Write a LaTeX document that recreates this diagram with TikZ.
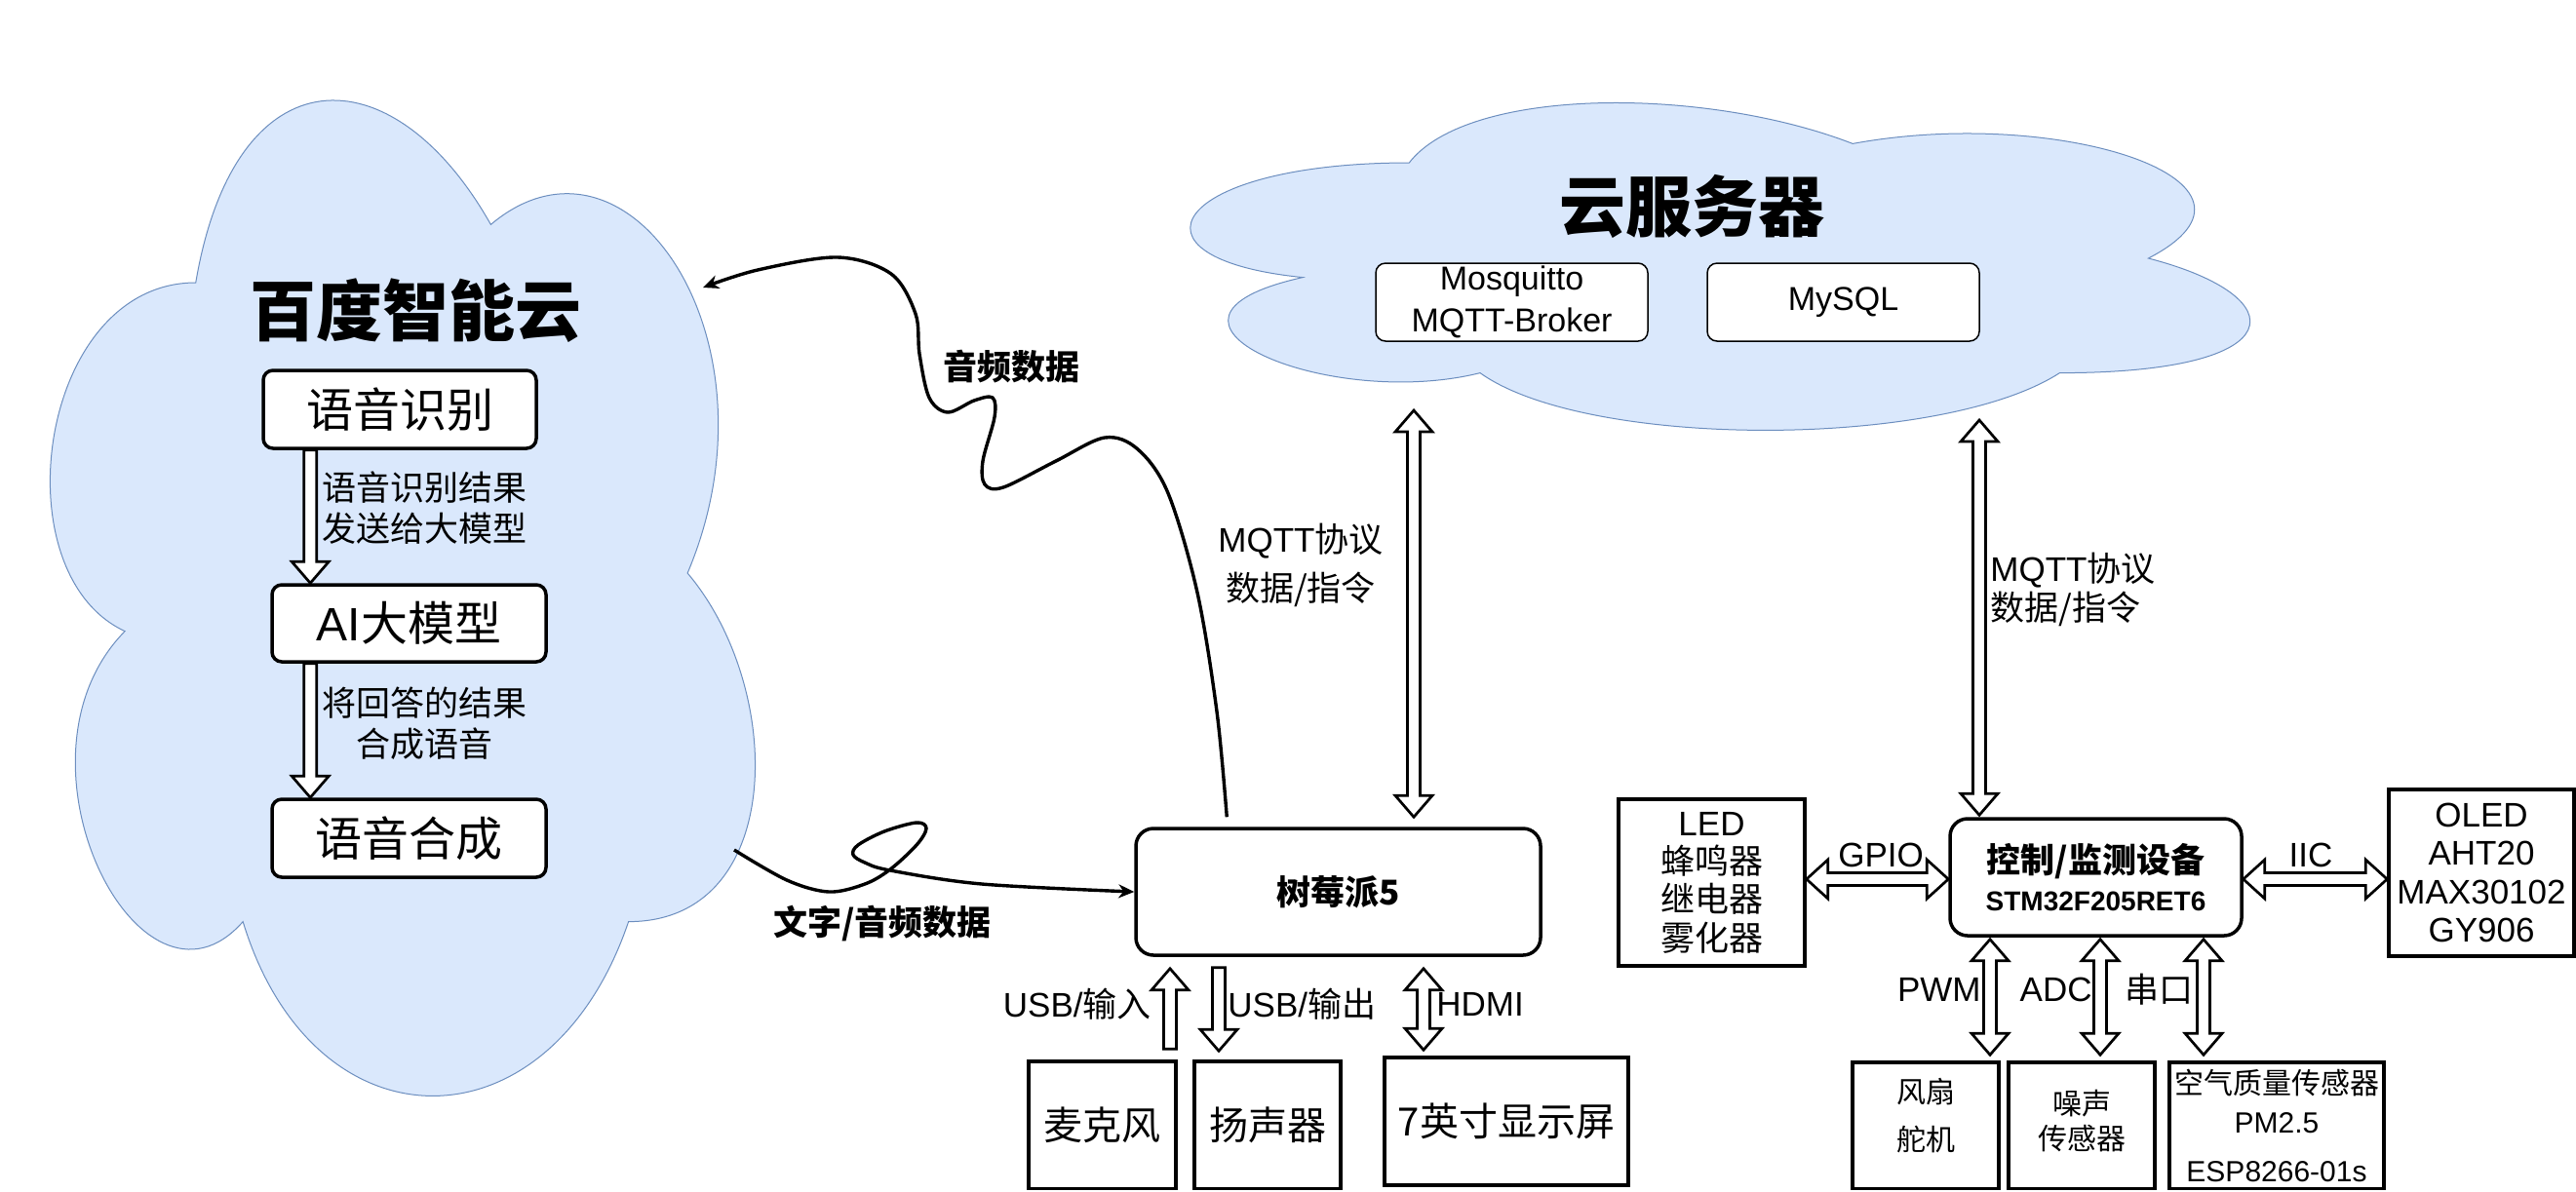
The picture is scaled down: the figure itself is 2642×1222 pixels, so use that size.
\documentclass[tikz,border=0pt]{standalone}
\usepackage{fontspec}
\setmainfont{Liberation Sans}
\newfontfamily\cj{Noto Sans CJK SC}
\usetikzlibrary{calc,arrows.meta}
\definecolor{cloudfill}{HTML}{DAE8FC}
\definecolor{cloudline}{HTML}{6C8EBF}
\newcommand{\cloudshape}[4]{%
 (#1+0.25*#3,#2+0.25*#4) .. controls (#1+0.05*#3,#2+0.25*#4) and (#1,#2+0.5*#4) .. (#1+0.16*#3,#2+0.55*#4)
 .. controls (#1,#2+0.66*#4) and (#1+0.18*#3,#2+0.9*#4) .. (#1+0.31*#3,#2+0.8*#4)
 .. controls (#1+0.4*#3,#2+#4) and (#1+0.7*#3,#2+#4) .. (#1+0.8*#3,#2+0.8*#4)
 .. controls (#1+#3,#2+0.8*#4) and (#1+#3,#2+0.6*#4) .. (#1+0.875*#3,#2+0.5*#4)
 .. controls (#1+#3,#2+0.3*#4) and (#1+0.8*#3,#2+0.1*#4) .. (#1+0.625*#3,#2+0.2*#4)
 .. controls (#1+0.5*#3,#2+0.05*#4) and (#1+0.3*#3,#2+0.05*#4) .. (#1+0.25*#3,#2+0.25*#4) -- cycle}
\newcommand{\vdbl}[2]{%
 \draw[barrow] (#1) -- ($(#1)+(19,22)$) -- ($(#1)+(6.5,22)$) -- ($(#2)+(6.5,-22)$) -- ($(#2)+(19,-22)$) -- (#2) -- ($(#2)+(-19,-22)$) -- ($(#2)+(-6.5,-22)$) -- ($(#1)+(-6.5,22)$) -- ($(#1)+(-19,22)$) -- cycle;}
\newcommand{\sarr}[3]{%
 \draw[barrow] ($(#1)+(-6.5,0)$) -- ($(#1)+(6.5,0)$) -- ($(#2)+(6.5,#3)$) -- ($(#2)+(19,#3)$) -- (#2) -- ($(#2)+(-19,#3)$) -- ($(#2)+(-6.5,#3)$) -- cycle;}
\newcommand{\hdbl}[2]{%
 \draw[barrow] (#1) -- ($(#1)+(22,-20)$) -- ($(#1)+(22,-6.5)$) -- ($(#2)+(-22,-6.5)$) -- ($(#2)+(-22,-20)$) -- (#2) -- ($(#2)+(-22,20)$) -- ($(#2)+(-22,6.5)$) -- ($(#1)+(22,6.5)$) -- ($(#1)+(22,20)$) -- cycle;}
\begin{document}
\begin{tikzpicture}[x=0.5pt,y=-0.5pt,
 cloudst/.style={fill=cloudfill,draw=cloudline,line width=0.5pt},
 box/.style={draw,line width=1.75pt,fill=white,inner sep=0pt,align=center},
 rbox/.style={box,rounded corners=5pt},
 rrbox/.style={box,rounded corners=9pt},
 sbox/.style={draw,line width=0.75pt,fill=white,rounded corners=5pt,inner sep=0pt,align=center},
 barrow/.style={draw,line width=1.35pt,fill=white,line join=miter},
 curvest/.style={line width=1.7pt,-{Stealth[length=8pt,width=7pt,inset=2.5pt]}},
 title/.style={font=\cj\bfseries\fontsize{34}{40}\selectfont},
 big/.style={font=\cj\fontsize{24}{28}\selectfont},
 lab/.style={font=\fontsize{17.5}{21}\selectfont,align=center,inner sep=0pt},
 cjlab/.style={font=\cj\fontsize{17.5}{21}\selectfont,align=center,inner sep=0pt},
 bcjlab/.style={font=\cj\bfseries\fontsize{17.5}{21}\selectfont,align=center,inner sep=0pt},
 dev/.style={font=\cj\fontsize{20}{24}\selectfont}
]
\useasboundingbox (0,0) rectangle (2642,1222);
\fill[white] (0,0) rectangle (2642,1222);

% ---------- Baidu cloud ----------
\draw[cloudst] \cloudshape{-1}{-8}{807}{1192};
\node[title] (t1) at (426,319) {百度智能云};
\node[rbox,big,minimum width=140pt,minimum height=40pt] (asr) at (410,420) {语音识别};
\node[rbox,big,minimum width=140.5pt,minimum height=39.5pt] (ai) at (419.5,639.5) {\rmfamily AI{\cj 大模型}};
\node[rbox,big,minimum width=140.5pt,minimum height=40pt] (tts) at (419.5,860) {语音合成};
\coordinate (a1s) at ($(asr.south west)+(50,0)$);
\coordinate (a1e) at (a1s |- ai.north);
\sarr{a1s}{a1e}{-22}
\coordinate (a2s) at (a1s |- ai.south);
\coordinate (a2e) at (a1s |- tts.north);
\sarr{a2s}{a2e}{-22}
\node[cjlab] (l1) at (435,521) {语音识别结果\\发送给大模型};
\node[cjlab] (l2) at (435,742) {将回答的结果\\合成语音};

% ---------- Server cloud ----------
\draw[cloudst] \cloudshape{1142}{69}{1213}{392};
\node[title] (t2) at (1735,212) {云服务器};
\node[sbox,font=\fontsize{17}{21.5}\selectfont,minimum width=139.5pt,minimum height=40pt] (mosq) at (1550.5,310) {Mosquitto\\MQTT-Broker};
\node[sbox,font=\fontsize{17}{21.5}\selectfont,minimum width=139.5pt,minimum height=40pt] (mysql) at (1890.5,310) {MySQL};

% ---------- Raspberry Pi ----------
\node[rrbox,font=\cj\bfseries\fontsize{17.5}{21}\selectfont,minimum width=207.5pt,minimum height=65pt] (pi) at (1372.5,915) {树莓派5};
\node[box,dev,minimum width=75.5pt,minimum height=65.25pt] (mic) at (1130.5,1154.25) {麦克风};
\node[box,dev,minimum width=75pt,minimum height=65.25pt] (spk) at (1300,1154.25) {扬声器};
\node[box,dev,minimum width=125pt,minimum height=65.5pt] (disp) at (1545,1150.5) {7英寸显示屏};

\coordinate (uinx) at (1200,0);
\coordinate (uinS) at ($(uinx |- mic.north)+(0,-11)$);
\coordinate (uinE) at ($(uinx |- pi.south)+(0,12)$);
\sarr{uinS}{uinE}{22}
\coordinate (uoutx) at (1250,0);
\coordinate (uoutS) at ($(uoutx |- pi.south)+(0,11)$);
\coordinate (uoutE) at ($(uoutx |- spk.north)+(0,-9)$);
\sarr{uoutS}{uoutE}{-22}
\coordinate (hdx) at (1460,0);
\coordinate (hd1) at ($(hdx |- pi.south)+(0,12)$);
\coordinate (hd2) at ($(hdx |- disp.north)+(0,-6)$);
\vdbl{hd1}{hd2}
\node[lab,anchor=east] (lusbin) at (1181,1030) {USB/{\cj 输入}};
\node[lab,anchor=west] (lusbout) at (1259,1030) {USB/{\cj 输出}};
\node[lab,anchor=west] (lhdmi) at (1473,1030) {HDMI};

% ---------- MQTT links ----------
\coordinate (m1t) at (1450,421);
\coordinate (m1b) at ($(m1t |- pi.north)+(0,-10)$);
\vdbl{m1t}{m1b}
\node[lab,font=\fontsize{17.5}{25}\selectfont] (lm1) at (1334,580) {MQTT{\cj 协议}\\{\cj 数据/指令}};

% ---------- Controller ----------
\node[rrbox,font=\cj\bfseries\fontsize{17.5}{19.5}\selectfont,minimum width=149.5pt,minimum height=60pt] (ctrl) at (2149.5,900) {控制/监测设备\\{\rmfamily\fontsize{14}{19.5}\selectfont STM32F205RET6}};
\coordinate (m2t) at (2030,431);
\coordinate (m2b) at ($(m2t |- ctrl.north)+(0,-2)$);
\vdbl{m2t}{m2b}
\node[lab,align=left,anchor=west,font=\fontsize{17.5}{20}\selectfont] (lm2) at (2041,605) {MQTT{\cj 协议}\\{\cj 数据/指令}};

\node[box,font=\fontsize{17.5}{19.7}\selectfont,minimum width=95.5pt,minimum height=85.5pt] (led) at (1755.5,905.5) {LED\\{\cj 蜂鸣器}\\{\cj 继电器}\\{\cj 雾化器}};
\node[box,font=\fontsize{17.5}{19.7}\selectfont,minimum width=95pt,minimum height=85.5pt] (oled) at (2545,895.5) {OLED\\AHT20\\MAX30102\\GY906};
\coordinate (g2) at ($(ctrl.west)+(0,2)$);
\coordinate (g1) at (led.east |- g2);
\hdbl{g1}{g2}
\coordinate (i1) at ($(ctrl.east)+(0,2)$);
\coordinate (i2) at (oled.west |- i1);
\hdbl{i1}{i2}
\node[lab] (lgpio) at (1929,877) {GPIO};
\node[lab] (liic) at (2370,877) {IIC};

\node[box,minimum width=75pt,minimum height=64.75pt,label={[font=\cj\fontsize{15}{24.5}\selectfont,align=center,yshift=5.1pt]center:{风扇\\舵机}}] (fan) at (1975,1154.75) {};
\node[box,minimum width=75pt,minimum height=64.75pt,label={[font=\cj\fontsize{15}{18}\selectfont,align=center,yshift=2.4pt]center:{噪声\\传感器}}] (noise) at (2135,1154.75) {};
\node[box,font=\fontsize{15}{20}\selectfont,minimum width=110pt,minimum height=64.75pt] (air) at (2335,1154.75) {{\cj 空气质量传感器}\\PM2.5\\[5pt]ESP8266-01s};

\coordinate (p1) at ($(ctrl.south)+(-108.5,2)$);
\coordinate (p2) at ($(p1 |- fan.north)+(0,-6)$);
\vdbl{p1}{p2}
\coordinate (d1) at ($(ctrl.south)+(4.5,2)$);
\coordinate (d2) at ($(d1 |- noise.north)+(0,-6)$);
\vdbl{d1}{d2}
\coordinate (s1) at ($(ctrl.south)+(110.5,2)$);
\coordinate (s2) at ($(s1 |- air.north)+(0,-6)$);
\vdbl{s1}{s2}
\node[lab,anchor=east] (lpwm) at (2032,1015) {PWM};
\node[lab,anchor=east] (ladc) at (2146,1015) {ADC};
\node[cjlab,anchor=east] (lser) at (2250,1015) {串口};

% ---------- curved data links ----------
\coordinate (audS) at ($(pi.north west)+(95,-10)$);
\coordinate (audE) at (721,295);
\draw[curvest] plot[smooth,tension=0.55] coordinates {(audS) (1248,730) (1228,608) (1198,506) (1167,461) (1133,449) (1083,473) (1029,500) (1010,497) (1008,473) (1020,428) (1018,408) (999,411) (972,423) (953,408) (943,363) (939,322) (914,281) (859,264) (777,277) (audE)};
\node[bcjlab] (laud) at (1037,376) {音频数据};

\coordinate (txtS) at (753,872);
\draw[curvest] plot[smooth,tension=0.55] coordinates {(txtS) (807,903) (850,915) (887,907) (913,892) (940,867) (950,850) (940,844) (907,853) (880,867) (875,877) (887,885) (913,893) (1007,907) (pi.west)};
\node[bcjlab] (ltxt) at (905,947) {文字/音频数据};
\end{tikzpicture}
\end{document}
